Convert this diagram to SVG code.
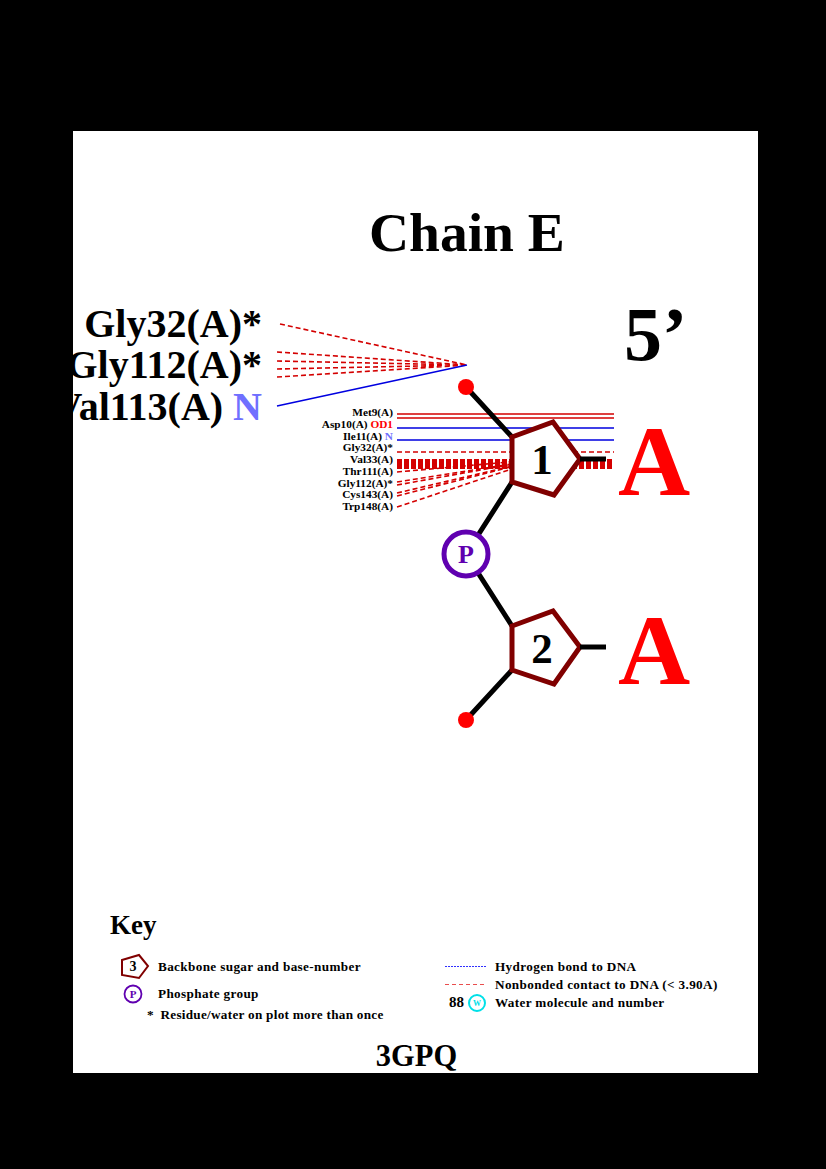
<svg xmlns="http://www.w3.org/2000/svg" width="826" height="1169" viewBox="0 0 826 1169">
<style>
text{font-family:"Liberation Serif","Times New Roman",serif;font-weight:bold;fill:#000}
.lab{font-size:11.3px;text-anchor:end}
.big{font-size:40px;text-anchor:end}
.key{font-size:13.2px;letter-spacing:.36px}
.base{font-size:100px;fill:#f00}
.sugar{fill:#fff;stroke:#800000;stroke-width:5;stroke-linejoin:miter}
.bond{fill:none;stroke:#000;stroke-width:5}
.nb{fill:none;stroke:#d40000;stroke-width:1.6;stroke-dasharray:5 3}
.band{fill:none;stroke:#d40000;stroke-width:2;stroke-dasharray:5 2}
.hb{fill:none;stroke:#0000e0;stroke-width:1.6}
.solid{fill:none;stroke:#d40000;stroke-width:1.6}
.num{font-size:43px;text-anchor:middle}
</style>
<rect width="826" height="1169" fill="#000"/>
<rect x="73" y="131" width="685" height="942" fill="#fff"/>
<g id="connectors">
<path class="nb" d="M280 324L467 365M277 352L467 365M277 361L467 365M277 369L467 365M277 377L467 365"/>
<path class="hb" d="M277 406L467 365"/>
<path class="solid" d="M397 414H614M397 418H614"/>
<path class="hb" d="M397 428H614M397 440H614"/>
<path class="nb" d="M397 452H614"/>
<path class="band" d="M397 460H614M397 462H614M397 464H614M397 466H614M397 468H614"/>
<path class="nb" d="M397 472L542 459M397 482L542 459M397 485L542 459M397 493L542 459M397 496L542 459M397 507L542 459"/>
<path class="bond" d="M466 387L512 437M512 482L466 554L512 626M512 670L466 720"/>
</g>
<g id="sugar-1">
<polygon class="sugar" points="512,437 553,422 580,459 554,495 512,482"/>
<path class="bond" d="M580 459H606"/>
<text class="num" x="542" y="474">1</text>
</g>
<g id="sugar-2">
<polygon class="sugar" points="512,626 553,611 580,647 554,684 512,670"/>
<path class="bond" d="M580 647H606"/>
<text class="num" x="542" y="663">2</text>
</g>
<g id="phosphate">
<circle cx="466" cy="554" r="22" fill="#fff" stroke="#6000b0" stroke-width="5"/>
<text x="466" y="563" font-size="26" text-anchor="middle" style="fill:#6000b0">P</text>
</g>
<g id="oxygen-1"><circle cx="466" cy="387" r="8" fill="#f00"/></g>
<g id="oxygen-2"><circle cx="466" cy="720" r="8" fill="#f00"/></g>
<g id="base-1"><text class="base" x="618" y="495">A</text></g>
<g id="base-2"><text class="base" x="618" y="684">A</text></g>
<g id="title">
<text x="369" y="251" font-size="55.500">Chain E</text>
<text x="624" y="360" font-size="76">5’</text>
</g>
<g id="residues-large">
<text class="big" x="262" y="337">Gly32(A)*</text>
<text class="big" x="262" y="378">Gly112(A)*</text>
<text class="big" x="262" y="420">Val113(A) <tspan style="fill:#7070ff">N</tspan></text>
</g>
<g id="residues-small">
<text class="lab" x="393" y="416">Met9(A)</text>
<text class="lab" x="393" y="428">Asp10(A) <tspan style="fill:#f00">OD1</tspan></text>
<text class="lab" x="393" y="440">Ile11(A) <tspan style="fill:#7070ff">N</tspan></text>
<text class="lab" x="393" y="451">Gly32(A)*</text>
<text class="lab" x="393" y="463">Val33(A)</text>
<text class="lab" x="393" y="475">Thr111(A)</text>
<text class="lab" x="393" y="487">Gly112(A)*</text>
<text class="lab" x="393" y="498">Cys143(A)</text>
<text class="lab" x="393" y="510">Trp148(A)</text>
</g>
<g id="key">
<text x="110" y="934" font-size="27">Key</text>
<polygon points="122,960 139,955 148,966 139,978 122,975" fill="#fff" stroke="#800000" stroke-width="2"/>
<text x="133" y="971" font-size="14" text-anchor="middle">3</text>
<text class="key" x="158" y="970.500">Backbone sugar and base-number</text>
<circle cx="133" cy="994" r="8.500" fill="#fff" stroke="#6000b0" stroke-width="1.800"/>
<text x="133" y="998" font-size="11" text-anchor="middle" style="fill:#6000b0">P</text>
<text class="key" x="158" y="998">Phosphate group</text>
<text class="key" x="147" y="1019" style="letter-spacing:.28px">* <tspan dx="3">Residue/water on plot more than once</tspan></text>
<path d="M445 966.500H487" stroke="#3030ff" stroke-width="1" stroke-dasharray="2 1" fill="none"/>
<path d="M445 984.500H487" stroke="#e00000" stroke-width="0.700" stroke-dasharray="4 3" fill="none"/>
<text class="key" x="495" y="970.500">Hydrogen bond to DNA</text>
<text class="key" x="495" y="988.500">Nonbonded contact to DNA (&lt; 3.90A)</text>
<text x="449" y="1007" font-size="15">88</text>
<circle cx="477" cy="1003" r="8" fill="#fff" stroke="#00e0e8" stroke-width="2"/>
<text x="477" y="1006" font-size="8" font-weight="normal" text-anchor="middle" style="fill:#00e0e8">W</text>
<text class="key" x="495" y="1006.500">Water molecule and number</text>
</g>
<text id="pdb" x="416.500" y="1066" font-size="30.500" text-anchor="middle">3GPQ</text>
<g id="page-mask" fill="#000">
<rect x="0" y="0" width="73" height="1169"/>
<rect x="0" y="1073" width="826" height="96"/>
</g>
</svg>
